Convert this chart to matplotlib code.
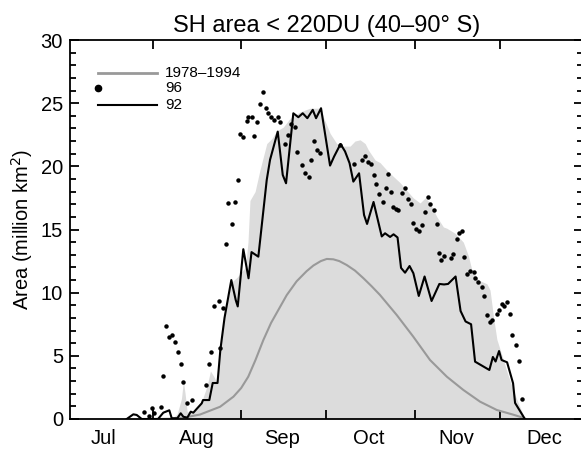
import numpy as np
import matplotlib
matplotlib.use("Agg")
import matplotlib.pyplot as plt

plt.rcParams['font.family'] = ['Liberation Sans', 'DejaVu Sans']

# x axis: days counted from 1 July
month_starts = [31, 62, 92, 123, 153]
month_mids = [13.5, 46.5, 76.5, 107, 137.5, 168.5]
month_names = ["Jul", "Aug", "Sep", "Oct", "Nov", "Dec"]

# 1978-1994 envelope (upper edge of the shaded band)
env_day = [37.5, 39.5, 41.0, 41.7, 42.3, 43.0, 44.5, 46.5, 48.3, 50.0, 51.2, 52.3, 53.5,
           54.7, 56.2, 58.5, 60.5, 62.0, 63.5, 64.4, 65.1, 66.9, 68.6, 71.0, 72.8, 74.5,
           76.8, 79.2, 82.7, 86.2, 90.0, 90.9, 93.3, 95.6, 97.9, 100.3, 102.0, 103.8,
           105.6, 106.7, 109.1, 110.8, 113.2, 115.5, 117.9, 120.2, 122.5, 124.9, 126.7,
           128.4, 130.8, 133.1, 134.3, 137.2, 140.1, 141.9, 143.1, 145.4, 148.4, 149.5,
           150.7, 151.9, 153.6, 155.8, 158.3, 160.1, 161.8]
env_area = [0.0, 0.4, 1.6, 3.0, 2.0, 0.6, 0.5, 0.8, 1.5, 2.6, 3.8, 3.4, 2.9,
            5.5, 8.2, 10.8, 11.2, 11.6, 12.0, 14.0, 17.3, 18.0, 19.7, 21.8, 22.2, 22.8,
            23.1, 23.8, 24.3, 24.6, 24.6, 23.9, 22.6, 21.8, 21.6, 21.6, 22.0, 22.1,
            21.8, 21.3, 20.5, 20.3, 19.7, 19.2, 18.7, 18.1, 17.5, 17.1, 17.5,
            17.1, 16.0, 15.2, 15.1, 14.7, 14.0, 12.9, 11.8, 11.0, 10.7, 10.2,
            8.1, 6.3, 5.1, 3.5, 1.9, 0.9, 0.0]

# 1978-1994 mean
mean_day = [32.0, 38.2, 42.0, 47.5, 54.6, 59.3, 62.0, 64.5, 67.0, 69.8, 72.5, 75.5, 78.0,
            81.5, 85.0, 87.4, 90.0, 92.1, 94.4, 96.5, 99.1, 102.0, 105.0, 107.9, 110.8,
            116.7, 122.5, 128.4, 134.3, 140.1, 146.0, 151.9, 157.7, 160.8, 162.0]
mean_area = [0.0, 0.02, 0.12, 0.35, 0.97, 1.77, 2.45, 3.35, 4.65, 6.25, 7.6, 8.8, 9.8,
             10.9, 11.7, 12.15, 12.5, 12.67, 12.64, 12.5, 12.19, 11.75, 11.14, 10.5, 9.82,
             8.23, 6.52, 4.67, 3.35, 2.30, 1.37, 0.71, 0.34, 0.12, 0.0]

# 1996 daily values
day96 = [27.85, 29.43, 30.77, 31.43, 33.65, 34.63, 35.51, 36.71, 37.62, 38.75,
         39.70, 40.75, 41.67, 43.07, 44.62, 49.65, 50.70, 51.41, 52.36, 54.22,
         54.47, 55.70, 56.58, 57.38, 58.79, 59.74, 61.01, 61.50, 62.76, 63.96,
         64.52, 65.72, 66.53, 67.58, 68.64, 69.69, 70.75, 71.55, 72.61, 73.66,
         74.86, 75.77, 77.43, 78.55, 79.54, 81.01, 81.75, 83.40, 84.56, 85.69,
         86.64, 87.55, 88.61, 89.80, 96.77, 101.76, 104.61, 105.66, 106.50, 107.49,
         108.61, 109.53, 110.48, 111.95, 112.87, 113.57, 114.52, 115.40, 116.35, 117.26,
         118.50, 119.73, 120.57, 121.55, 122.50, 123.56, 124.44, 125.67, 126.76, 127.53,
         128.52, 129.89, 130.70, 131.68, 132.38, 133.33, 135.79, 136.50, 137.80, 138.71,
         139.77, 140.47, 141.53, 142.47, 143.99, 144.23, 145.18, 146.59, 147.40, 148.56,
         149.51, 150.32, 151.86, 152.67, 153.62, 154.43, 155.59, 156.54, 157.35, 158.65,
         159.60, 160.65]
area96 = [0.53, 0.25, 0.85, 0.48, 0.97, 3.43, 7.39, 6.52, 6.63, 6.11,
          5.33, 4.33, 2.91, 1.23, 1.50, 2.72, 4.35, 5.30, 8.95, 9.37,
          5.61, 8.79, 13.86, 17.13, 15.40, 17.21, 18.92, 22.54, 22.30, 23.59,
          23.89, 23.94, 22.43, 23.52, 24.92, 25.91, 24.60, 24.20, 23.94, 23.67,
          23.89, 23.49, 21.77, 22.49, 23.33, 23.08, 21.14, 20.13, 19.45, 19.18,
          20.51, 21.99, 21.26, 21.06, 21.69, 20.19, 20.51, 20.78, 20.33, 20.17,
          19.30, 18.57, 17.80, 17.18, 18.31, 19.38, 17.97, 16.81, 16.64, 16.51,
          17.87, 18.29, 17.42, 17.01, 15.54, 15.02, 14.89, 15.34, 16.39, 17.54,
          17.02, 16.51, 15.46, 13.14, 12.59, 12.91, 12.77, 13.04, 14.23, 14.70,
          14.89, 12.85, 11.48, 11.72, 11.66, 11.14, 10.87, 10.43, 9.76, 8.23,
          7.70, 7.81, 8.29, 8.63, 9.08, 8.97, 9.26, 8.29, 6.63, 5.88,
          4.57, 1.56]

# 1992 daily values
day92 = [21.77, 24.09, 25.28, 27.04, 32.77, 34.63, 36.74, 37.59, 39.56, 40.75,
         41.67, 43.07, 44.27, 45.18, 46.73, 48.14, 48.59, 50.81, 52.00, 53.69,
         54.68, 56.15, 58.54, 60.09, 60.80, 62.76, 64.59, 65.65, 68.04, 70.99,
         72.15, 74.86, 76.62, 77.78, 80.34, 82.10, 83.65, 85.27, 87.17, 88.33,
         90.08, 93.25, 94.66, 96.94, 98.52, 100.11, 101.44, 103.45, 105.20, 106.26,
         108.54, 111.43, 112.59, 114.35, 115.58, 116.98, 118.21, 119.62, 121.20, 122.54,
         124.44, 126.48, 128.94, 131.68, 133.33, 134.74, 137.38, 139.14, 140.89, 142.83,
         144.23, 149.26, 150.49, 151.44, 152.67, 153.55, 155.49, 157.59, 158.30, 161.64]
area92 = [0.0, 0.37, 0.32, 0.0, 0.0, 0.50, 0.69, 0.06, 0.06, 0.45,
          0.18, 0.10, 0.58, 0.50, 0.89, 1.24, 1.50, 1.50, 2.85, 2.85,
          5.46, 8.00, 11.00, 9.42, 8.91, 13.44, 11.14, 13.21, 12.85, 18.92,
          20.51, 22.75, 19.32, 18.66, 24.20, 23.89, 24.20, 23.81, 24.47, 23.81,
          24.60, 20.06, 20.77, 21.77, 21.18, 20.25, 18.79, 19.45, 16.15, 15.44,
          17.18, 14.45, 14.70, 14.41, 14.62, 14.37, 11.96, 11.58, 12.11, 11.54,
          9.74, 11.28, 9.34, 10.69, 10.65, 10.69, 11.28, 8.55, 7.72, 7.50,
          4.54, 3.88, 4.91, 4.55, 5.38, 4.67, 4.49, 2.83, 1.27, 0.04]

fig = plt.figure(figsize=(5.81, 4.5), dpi=100)
ax = fig.add_axes([70 / 581, 31 / 450, 512.5 / 581, 379 / 450])

ax.fill_between(env_day, 0, env_area, color="#dcdcdc", linewidth=0, zorder=1)
ax.plot(mean_day, mean_area, color="#999999", lw=1.5, zorder=2)
ax.plot(day96, area96, ls="none", marker="o", ms=2.2, color="black", zorder=3)
ax.plot(day92, area92, color="black", lw=1.5, zorder=4)

ax.set_xlim(1.83, 182.0)
ax.set_ylim(0, 30)

ax.set_xticks(month_starts)
ax.set_xticklabels([])
ax.set_xticks(month_mids, minor=True)
ax.set_xticklabels(month_names, minor=True)
ax.set_yticks(np.arange(0, 31, 5))
ax.set_yticks(np.arange(0, 31, 1), minor=True)

ax.tick_params(which="both", direction="in", top=True, right=True, width=1.3,
               labelsize=14.5, pad=5)
ax.tick_params(which="major", length=6.5)
ax.tick_params(axis="y", which="minor", length=4)
ax.tick_params(axis="x", which="minor", length=0, pad=7)
for s in ax.spines.values():
    s.set_linewidth(1.3)

ax.set_ylabel("Area (million km$^2$)", fontsize=14.5, labelpad=4)
ax.set_title("SH area < 220DU (40\u201390\u00b0 S)", fontsize=17, pad=6)

# key in the upper left corner
tr = ax.transAxes
ax.plot([0.055, 0.17], [0.913, 0.913], color="#999999", lw=2, transform=tr)
ax.plot([0.055], [0.873], marker="o", ms=4.5, color="black", transform=tr)
ax.plot([0.055, 0.17], [0.8285, 0.8285], color="black", lw=1.5, transform=tr)
ax.text(0.185, 0.913, "1978\u20131994", fontsize=11, va="center", transform=tr)
ax.text(0.185, 0.873, "96", fontsize=11, va="center", transform=tr)
ax.text(0.185, 0.8285, "92", fontsize=11, va="center", transform=tr)

fig.savefig("out.png", dpi=100)
